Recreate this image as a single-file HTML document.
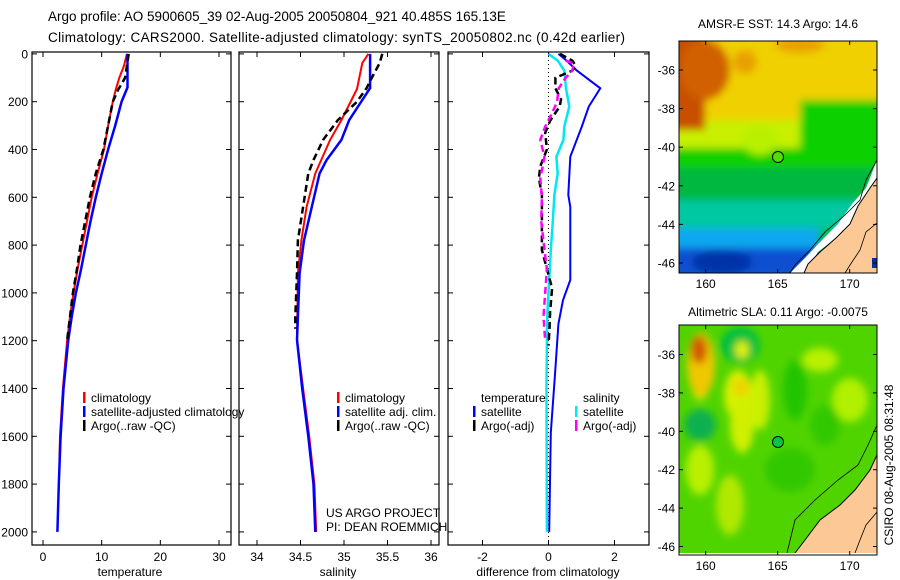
<!DOCTYPE html>
<html><head><meta charset="utf-8">
<style>
body{margin:0;background:#fff;}
svg{display:block;font-family:"Liberation Sans",sans-serif;}
</style></head>
<body>
<svg id="fig" width="900" height="580" viewBox="0 0 900 580" xmlns="http://www.w3.org/2000/svg">
<defs>
<clipPath id="m1c"><rect x="679" y="41" width="198" height="232"/></clipPath>
<clipPath id="m2c"><rect x="679" y="325" width="198" height="228"/></clipPath>
<filter id="bl" x="-20%" y="-20%" width="140%" height="140%"><feGaussianBlur stdDeviation="4"/></filter>
</defs>
<text x="48" y="21" font-size="13.5">Argo profile: AO 5900605_39 02-Aug-2005 20050804_921 40.485S 165.13E</text>
<text x="48" y="42" font-size="13.5" textLength="577" lengthAdjust="spacing">Climatology: CARS2000. Satellite-adjusted climatology: synTS_20050802.nc (0.42d earlier)</text>

<g id="panels"></g>

<!-- Map 1 SST -->
<g>
<text x="778" y="28" font-size="12" text-anchor="middle">AMSR-E SST: 14.3 Argo: 14.6</text>
<g clip-path="url(#m1c)">
<rect x="679" y="41" width="198" height="232" fill="#00c040"/>
<g filter="url(#bl)">
<rect x="660" y="20" width="240" height="110" fill="#f0d000"/>
<rect x="660" y="120" width="240" height="30" fill="#c8f000"/>
<rect x="800" y="100" width="100" height="50" fill="#10d000"/>
<rect x="660" y="148" width="240" height="22" fill="#10d000"/>
<rect x="660" y="168" width="240" height="32" fill="#00b840"/>
<rect x="660" y="200" width="200" height="30" fill="#00c8a0"/>
<rect x="660" y="228" width="160" height="22" fill="#10a8f0"/>
<rect x="660" y="248" width="160" height="30" fill="#1050d0"/>
<ellipse cx="722" cy="262" rx="30" ry="12" fill="#0030a8"/>
<rect x="660" y="30" width="45" height="100" fill="#c85000"/>
<ellipse cx="705" cy="70" rx="25" ry="30" fill="#d06000"/>
<ellipse cx="745" cy="62" rx="12" ry="12" fill="#e8a000"/>
<ellipse cx="800" cy="45" rx="25" ry="8" fill="#e8a000"/>
<ellipse cx="760" cy="140" rx="18" ry="15" fill="#b8f000"/>
</g>
<polygon points="877,160 877,182 866,195 852,222 836,238 818,252 805,273 790,273 805,258 822,240 838,224 852,204 866,188" fill="#ffffff"/>
<polygon points="877,178 870,188 858,206 850,224 836,238 820,252 808,264 804,273 877,273" fill="#fbc896"/>
<polyline points="877,178 870,188 858,206 850,224 836,238 820,252 808,264 804,273" fill="none" stroke="#000" stroke-width="1"/>
<polyline points="877,160 866,180 860,200 845,215 825,232 810,250 795,265 790,273" fill="none" stroke="#000" stroke-width="0.8"/>
<polyline points="877,223 866,232 860,250 852,262 845,273" fill="none" stroke="#000" stroke-width="0.8"/>
<rect x="872" y="258" width="5" height="10" fill="#0030a8"/>
</g>
<rect x="679" y="41" width="198" height="232" fill="none" stroke="#000" stroke-width="1"/>
<circle cx="778" cy="157" r="5.5" fill="#50e000" stroke="#000" stroke-width="1"/>
<g id="m1ticks"></g>
</g>

<!-- Map 2 SLA -->
<g>
<text x="778" y="316" font-size="12" text-anchor="middle">Altimetric SLA: 0.11 Argo: -0.0075</text>
<g clip-path="url(#m2c)">
<rect x="679" y="325" width="198" height="228" fill="#50d400"/>
<g filter="url(#bl)">
<ellipse cx="740" cy="345" rx="20" ry="18" fill="#00c040"/>
<ellipse cx="700" cy="425" rx="16" ry="16" fill="#10b050"/>
<ellipse cx="760" cy="400" rx="10" ry="30" fill="#c8f000"/>
<ellipse cx="738" cy="395" rx="14" ry="25" fill="#d8f000"/>
<ellipse cx="742" cy="425" rx="12" ry="28" fill="#d0f000"/>
<ellipse cx="700" cy="385" rx="8" ry="16" fill="#c8f000"/>
<ellipse cx="820" cy="360" rx="18" ry="12" fill="#b8f000"/>
<ellipse cx="850" cy="400" rx="18" ry="22" fill="#b0f000"/>
<ellipse cx="790" cy="470" rx="25" ry="22" fill="#30c800"/>
<ellipse cx="795" cy="390" rx="12" ry="30" fill="#20c400"/>
<ellipse cx="730" cy="505" rx="14" ry="30" fill="#b0e800"/>
<ellipse cx="700" cy="470" rx="14" ry="25" fill="#b8f000"/>
<ellipse cx="825" cy="425" rx="15" ry="20" fill="#30c800"/>
<ellipse cx="742" cy="350" rx="7" ry="9" fill="#e0f000"/>
<ellipse cx="701" cy="365" rx="14" ry="32" fill="#f0c800"/>
<ellipse cx="699" cy="350" rx="8" ry="14" fill="#d05800"/>
<ellipse cx="741" cy="387" rx="8" ry="8" fill="#f0d000"/>
</g>
<polygon points="877,455 870,470 855,490 840,505 820,520 805,540 795,553 877,553" fill="#fbc896"/>
<polyline points="877,455 870,470 855,490 840,505 820,520 805,540 795,553" fill="none" stroke="#000" stroke-width="1"/>
<polyline points="877,425 868,445 858,465 838,480 815,500 795,520 787,553" fill="none" stroke="#000" stroke-width="0.8"/>
<polyline points="877,512 866,525 860,540 855,553" fill="none" stroke="#000" stroke-width="0.8"/>
<rect x="679" y="553" width="198" height="3" fill="#fff"/>
</g>
<rect x="679" y="325" width="198" height="230" fill="none" stroke="#000" stroke-width="1"/>
<circle cx="778" cy="442" r="5.5" fill="#00c840" stroke="#000" stroke-width="1"/>
<g id="m2ticks"></g>
</g>
<text transform="translate(893,465) rotate(-90)" font-size="12" text-anchor="middle">CSIRO 08-Aug-2005 08:31:48</text>
</svg>
<script>
// ---- data ----
const depthTicks=[0,200,400,600,800,1000,1200,1400,1600,1800,2000];
const tempTicks=[0,10,20,30];
const salTicks=[34,34.5,35,35.5,36];
const diffTicks=[-2,0,2];
// temperature
const tClimDepth=[0,50,100,150,200,300,400,500,600,700,800,900,1000,1100,1200,1400,1600,1700];
const tClim=[14.3,13.8,13.0,12.4,11.9,11.1,10.4,9.3,8.3,7.5,6.7,5.9,5.2,4.6,4.1,3.4,2.9,2.8];
const tSatDepth=[0,140,200,300,400,500,600,700,800,900,1000,1100,1200,1400,1600,1800,2000];
const tSat=[14.4,14.4,13.4,12.3,11.1,10.0,9.0,8.1,7.3,6.5,5.6,4.9,4.3,3.5,3.0,2.7,2.45];
const tArgoDepth=[0,50,100,150,200,300,400,500,600,700,800,900,1000,1100,1200];
const tArgo=[14.6,14.3,14.0,12.8,11.9,11.1,10.3,9.0,8.0,7.2,6.4,5.8,5.1,4.6,4.1];
// salinity
const sClimDepth=[0,38,147,277,360,500,640,780,918,1196,1400,1600,1800,2000];
const sClim=[35.28,35.21,35.15,34.97,34.84,34.67,34.57,34.51,34.47,34.46,34.53,34.60,34.66,34.68];
const sSatDepth=[0,143,193,277,360,444,500,640,780,918,1196,1400,1600,1800,2000];
const sSat=[35.30,35.30,35.21,35.06,34.97,34.80,34.72,34.63,34.54,34.49,34.46,34.52,34.59,34.65,34.67];
const sArgoDepth=[0,38,100,143,200,277,360,444,500,640,780,918,1100,1150];
const sArgo=[35.44,35.41,35.32,35.26,35.15,34.93,34.76,34.65,34.59,34.53,34.47,34.46,34.44,34.44];
// differences
const dTSatDepth=[0,28,70,144,220,304,430,590,640,946,1030,1130,1335,1585,2000];
const dTSat=[0.30,0.55,0.86,1.57,1.22,1.01,0.66,0.60,0.66,0.66,0.44,0.30,0.20,0.07,0.02];
const dSSatDepth=[0,28,70,144,220,304,360,430,500,590,700,800,946,1100,1400,2000];
const dSSat=[0.0,0.28,0.48,0.53,0.63,0.48,0.45,0.24,0.28,0.18,0.13,0.08,0.02,-0.04,-0.06,-0.05];
const dTArgoDepth=[0,28,50,70,100,144,190,220,280,330,400,470,520,590,700,820,900,980,1080,1150,1220];
const dTArgo=[0.35,0.72,0.82,0.72,0.21,0.21,0.38,0.34,0.05,-0.10,-0.05,-0.25,-0.29,-0.20,-0.20,-0.20,-0.05,0.11,0.05,0.03,0.0];
const dSArgoDepth=[28,40,70,100,144,200,250,304,360,430,520,600,700,820,900,1000,1100,1200];
const dSArgo=[0.52,0.77,0.72,0.52,0.31,0.26,0.10,-0.10,-0.25,-0.12,-0.25,-0.20,-0.22,-0.12,-0.05,-0.10,-0.15,-0.10];
// maps
const lonTicks=[160,165,170];
const latTicks=[-36,-38,-40,-42,-44,-46];

// ---- drawing ----
const NS='http://www.w3.org/2000/svg';
const root=document.getElementById('panels');
function mk(tag,attrs,parent){const e=document.createElementNS(NS,tag);for(const k in attrs)e.setAttribute(k,attrs[k]);(parent||root).appendChild(e);return e;}
const yTop=52,yBot=545;
function yD(d){return 53.9+d*0.239;}
function makeX(x0,x1,v0,v1){return v=>x0+(v-v0)*(x1-x0)/(v1-v0);}
const panels=[
 {name:'temperature-panel',x0:32,x1:231,sx:makeX(43,219,0,30),ticks:tempTicks,label:'temperature',lx:130,ylabels:true},
 {name:'salinity-panel',x0:239,x1:439,sx:makeX(257,431,34,36),ticks:salTicks,label:'salinity',lx:338,ylabels:false},
 {name:'difference-panel',x0:448,x1:649,sx:makeX(482.5,614.5,-2,2),ticks:diffTicks,label:'difference from climatology',lx:548,ylabels:false}
];
panels.forEach(p=>{
 const g=mk('g',{});
 
 
 p.g=g;
 const r=mk('rect',{x:p.x0,y:yTop,width:p.x1-p.x0,height:yBot-yTop,fill:'none',stroke:'#000','stroke-width':1.2},g);
 
 
 depthTicks.forEach(d=>{
  const y=yD(d);
  mk('line',{x1:p.x0,x2:p.x0+5,y1:y,y2:y,stroke:'#000'},g);
  mk('line',{x1:p.x1,x2:p.x1-5,y1:y,y2:y,stroke:'#000'},g);
  if(p.ylabels){
   const t=mk('text',{x:28,y:y+4.5,'font-size':12,'text-anchor':'end'},g);
   t.textContent=d;
   
   
  }
 });
 p.ticks.forEach(v=>{
  const x=p.sx(v);
  mk('line',{x1:x,x2:x,y1:yBot,y2:yBot-5,stroke:'#000'},g);
  mk('line',{x1:x,x2:x,y1:yTop,y2:yTop+5,stroke:'#000'},g);
  const t=mk('text',{x:x,y:561,'font-size':12,'text-anchor':'middle'},g);
  t.textContent=v;
  
  
 });
 const lt=mk('text',{x:p.lx,y:576,'font-size':12,'text-anchor':'middle'},g);
 lt.textContent=p.label;
 
 
});
function line(p,depths,vals,color,w,dash,name){
 const pts=depths.map((d,i)=>p.sx(vals[i]).toFixed(1)+','+yD(d).toFixed(1)).join(' ');
 const a={points:pts,fill:'none',stroke:color,'stroke-width':w};
 if(dash)a['stroke-dasharray']=dash;
 const e=mk('polyline',a,p.g);
 
 
}
const P1=panels[0],P2=panels[1],P3=panels[2];
line(P1,tClimDepth,tClim,'#ff0000',2,null,'temp-climatology-line');
line(P1,tSatDepth,tSat,'#0000ff',2.5,null,'temp-satellite-line');
line(P1,tArgoDepth,tArgo,'#000',2.5,'7,4','temp-argo-line');
line(P2,sClimDepth,sClim,'#ff0000',2,null,'sal-climatology-line');
line(P2,sSatDepth,sSat,'#0000ff',2.5,null,'sal-satellite-line');
line(P2,sArgoDepth,sArgo,'#000',2.5,'7,4','sal-argo-line');
const zl=mk('line',{x1:P3.sx(0),x2:P3.sx(0),y1:yTop,y2:yBot,stroke:'#000','stroke-dasharray':'1,3'},P3.g);


line(P3,dTSatDepth,dTSat,'#0000ff',2,null,'diff-temp-satellite-line');
line(P3,dSSatDepth,dSSat,'#00e8f0',2.5,null,'diff-sal-satellite-line');
line(P3,dTArgoDepth,dTArgo,'#000',2.5,'7,4','diff-temp-argo-line');
line(P3,dSArgoDepth,dSArgo,'#ff00ff',2.5,'7,4','diff-sal-argo-line');

function legend(g,x,y,color,text,name){
 const gg=mk('g',{},g);
 
 
 if(color)mk('rect',{x:x,y:y-10,width:2.5,height:11,fill:color},gg);
 const t=mk('text',{x:x+8,y:y,'font-size':12},gg);
 t.textContent=text;
}
legend(P1.g,83,402,'#ff0000','climatology','legend-climatology');
legend(P1.g,83,416,'#0000ff','satellite-adjusted climatology','legend-satellite-adjusted');
legend(P1.g,83,430,'#000','Argo(..raw -QC)','legend-argo');
legend(P2.g,337,402,'#ff0000','climatology','legend-climatology');
legend(P2.g,337,416,'#0000ff','satellite adj. clim.','legend-satellite-adjusted');
legend(P2.g,337,430,'#000','Argo(..raw -QC)','legend-argo');
legend(P3.g,473,402,null,'temperature','legend-temperature-heading');
legend(P3.g,473,416,'#0000ff','satellite','legend-temp-satellite');
legend(P3.g,473,430,'#000','Argo(-adj)','legend-temp-argo');
legend(P3.g,575,402,null,'salinity','legend-salinity-heading');
legend(P3.g,575,416,'#00e8f0','satellite','legend-sal-satellite');
legend(P3.g,575,430,'#ff00ff','Argo(-adj)','legend-sal-argo');
const c1=mk('text',{x:326,y:517,'font-size':12},P2.g);c1.textContent='US ARGO PROJECT';


const c2=mk('text',{x:326,y:531,'font-size':12},P2.g);c2.textContent='PI: DEAN ROEMMICH';



// map ticks
function mapTicks(gid,yT,yB,lat0y,perDeg){
 const g=document.getElementById(gid);
 const lonX=v=>705.7+(v-160)*14.4;
 lonTicks.forEach(v=>{
  const x=lonX(v);
  mk('line',{x1:x,x2:x,y1:yB,y2:yB-4,stroke:'#000'},g);
  mk('line',{x1:x,x2:x,y1:yT,y2:yT+4,stroke:'#000'},g);
  const t=mk('text',{x:x,y:yB+15,'font-size':12,'text-anchor':'middle'},g);
  t.textContent=v;
  
  
 });
 latTicks.forEach(v=>{
  const y=lat0y+(-36-v)*perDeg;
  mk('line',{x1:679,x2:683,y1:y,y2:y,stroke:'#000'},g);
  mk('line',{x1:877,x2:873,y1:y,y2:y,stroke:'#000'},g);
  const t=mk('text',{x:675,y:y+4.5,'font-size':12,'text-anchor':'end'},g);
  t.textContent=v;
  
  
 });
}
mapTicks('m1ticks',41,273,70,19.3);
mapTicks('m2ticks',325,555,354.5,19.2);
</script>
</body></html>
